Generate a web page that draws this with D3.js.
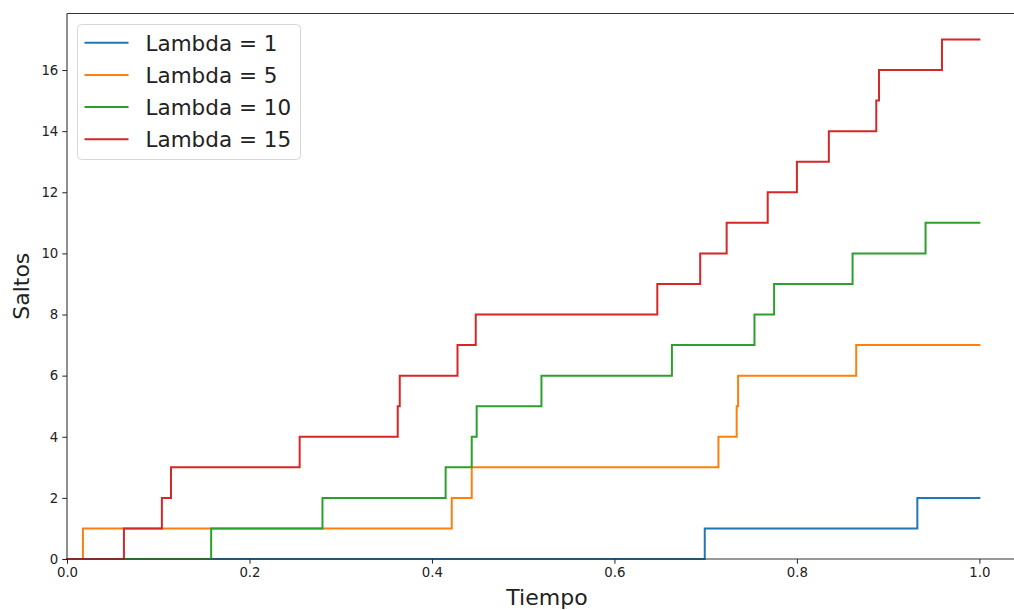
<!DOCTYPE html>
<html>
<head>
<meta charset="utf-8">
<script src="https://cdn.jsdelivr.net/npm/d3@7"></script>
<style>
  body { margin: 0; background: #fff; }
  text { font-family: "DejaVu Sans", sans-serif; }
</style>
</head>
<body>
<svg id="chart" width="1014" height="610"></svg>
<script>
// series labels and colours (matplotlib tab10)
const labels = ["Lambda = 1", "Lambda = 5", "Lambda = 10", "Lambda = 15"];
const colors = ["#1f77b4", "#ff7f0e", "#2ca02c", "#d62728"];

// jump times for each process (each jump adds 1)
const jumps1 = [0.699, 0.932];
const jumps5 = [0.0175, 0.4217, 0.4436, 0.714, 0.734, 0.7355, 0.865];
const jumps10 = [0.158, 0.280, 0.415, 0.4436, 0.449, 0.520, 0.663, 0.7535, 0.775, 0.861, 0.941];
const jumps15 = [0.0624, 0.104, 0.114, 0.255, 0.3625, 0.3647, 0.428, 0.448, 0.647, 0.694,
                 0.723, 0.768, 0.800, 0.835, 0.887, 0.890, 0.959];

const xTicks = [0.0, 0.2, 0.4, 0.6, 0.8, 1.0];
const yTicks = [0, 2, 4, 6, 8, 10, 12, 14, 16];

const tEnd = 1.0;

// build step series
function buildSteps(times) {
  const pts = [[0, 0]];
  times.forEach((t, i) => pts.push([t, i + 1]));
  pts.push([tEnd, times.length]);
  return pts;
}
const series = [jumps1, jumps5, jumps10, jumps15].map(buildSteps);

// plot area (right part of figure is cropped)
const margin = { left: 67, top: 13.5 };
const plotW = 958;   // 0 .. 1.05
const plotH = 545.5; // 0 .. 17.85

const svg = d3.select("#chart");

const x = d3.scaleLinear().domain([0, 1.05]).range([margin.left, margin.left + plotW]);
const y = d3.scaleLinear().domain([0, 17.85]).range([margin.top + plotH, margin.top]);

const line = d3.line()
  .x(d => x(d[0]))
  .y(d => y(d[1]))
  .curve(d3.curveStepAfter);

svg.append("g")
  .selectAll("path")
  .data(series)
  .join("path")
  .attr("d", line)
  .attr("fill", "none")
  .attr("stroke", (d, i) => colors[i])
  .attr("stroke-width", 2)
  .attr("stroke-linejoin", "miter")
  .attr("stroke-linecap", "square");

// axes
const xAxis = svg.append("g")
  .attr("transform", "translate(0," + y(0) + ")")
  .call(d3.axisBottom(x).tickValues(xTicks).tickFormat(d3.format(".1f")).tickSizeOuter(0).tickSize(4.7).tickPadding(4));

const yAxis = svg.append("g")
  .attr("transform", "translate(" + x(0) + ",0)")
  .call(d3.axisLeft(y).tickValues(yTicks).tickFormat(d3.format("d")).tickSizeOuter(0).tickSize(4.7).tickPadding(4));

[xAxis, yAxis].forEach(g => {
  g.select(".domain").remove();
  g.selectAll("line").attr("stroke", "#222").attr("stroke-width", 1);
  g.selectAll("text").attr("font-size", 13.3).attr("fill", "#222")
    .attr("font-family", "DejaVu Sans");
});

// spines: left, bottom, top
const spine = "#333";
svg.append("line")
  .attr("x1", x(0)).attr("x2", x(0)).attr("y1", y(0)).attr("y2", y(17.85))
  .attr("stroke", spine).attr("stroke-width", 1.1);
svg.append("line")
  .attr("x1", x(0)).attr("x2", x(1.05)).attr("y1", y(0)).attr("y2", y(0))
  .attr("stroke", spine).attr("stroke-width", 1.1);
svg.append("line")
  .attr("x1", x(0)).attr("x2", x(1.05)).attr("y1", y(17.85)).attr("y2", y(17.85))
  .attr("stroke", spine).attr("stroke-width", 1.1);

// axis labels
svg.append("text")
  .attr("x", 547).attr("y", 605)
  .attr("text-anchor", "middle")
  .attr("font-size", 22)
  .attr("fill", "#222")
  .text("Tiempo");

svg.append("text")
  .attr("transform", "translate(29," + (margin.top + plotH / 2) + ") rotate(-90)")
  .attr("text-anchor", "middle")
  .attr("font-size", 22)
  .attr("fill", "#222")
  .text("Saltos");

// legend
const legend = svg.append("g").attr("transform", "translate(77.5,24.5)");
legend.append("rect")
  .attr("width", 223).attr("height", 135)
  .attr("rx", 4)
  .attr("fill", "#fff").attr("fill-opacity", 0.8)
  .attr("stroke", "#d6d6d6").attr("stroke-width", 1);

const rows = legend.selectAll("g.row")
  .data(labels)
  .join("g")
  .attr("class", "row")
  .attr("transform", (d, i) => "translate(0," + (18.2 + i * 32.2) + ")");

rows.append("line")
  .attr("x1", 7).attr("x2", 51)
  .attr("stroke", (d, i) => colors[i])
  .attr("stroke-width", 2);

rows.append("text")
  .attr("x", 68).attr("y", 7.8)
  .attr("font-size", 21.5)
  .attr("fill", "#222")
  .text(d => d);
</script>
</body>
</html>
